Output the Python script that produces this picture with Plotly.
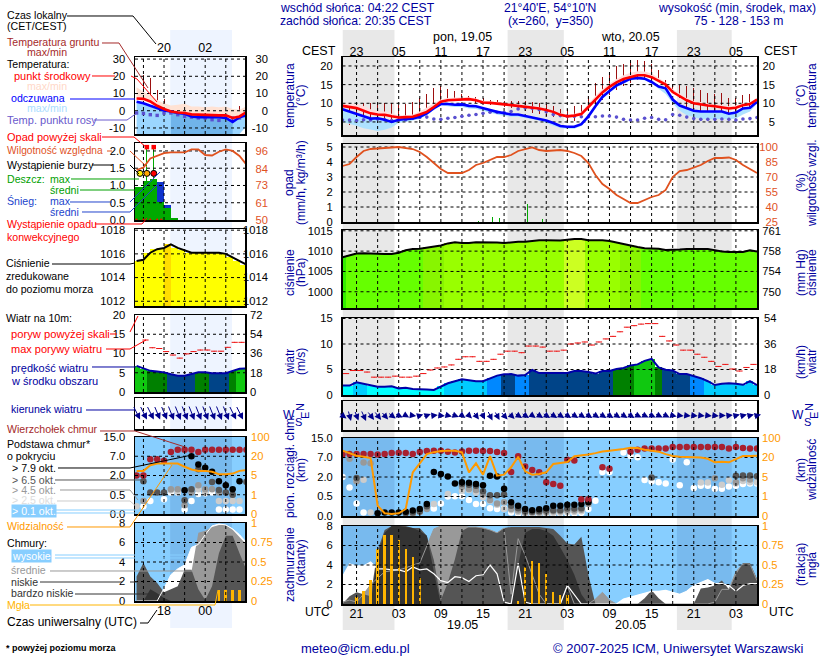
import numpy as np
import plotly.graph_objects as go

# ---------- time ----------
hours = list(range(19, 79))
left_hours = list(range(14, 31))

# ---------- main panel data (hourly, UTC, hour 24 = 19.05 00:00) ----------
temp_mid = [9.3,9,8.7,8,7.3,7,6.9,6.5,6.2,6.3,6.4,7,7.7,9,10.4,10.8,10.9,11,11.1,10.8,10.2,10.1,10,9.7,9.5,9.3,9,8.9,8.6,8.2,7.7,6.9,6.5,6.7,7.1,9,11,12.9,14.4,15.6,16.5,17,17.5,17.5,17,16,15,13,11.8,10.8,10,9.6,9.4,9.2,9,8.6,8.8,9.5,9.8,11]
temp_mid_max = [10,9.8,9.8,9.3,8.4,8,7.8,7.2,6.8,6.8,7,7.8,8.8,10,11,11.4,11.6,11.6,11.6,11.3,10.7,10.6,10.5,10.2,10,9.8,9.5,9.3,9,8.6,8,7.3,6.9,7.2,7.7,9.8,12,13.8,15.3,16.5,17.5,18.2,18.6,18.5,18,16.8,15.6,13.8,12.5,11.4,10.6,10.2,10,9.8,9.6,9.2,9.4,10,10.3,11.4]
temp_app = [8.4,7.7,7,6.5,5.9,6,5.6,5,5.6,5.8,5.9,6.4,7.3,8.7,9.8,9.8,9.6,9.7,9.3,9.2,8.6,8.2,7.7,7.3,7,7,6.6,6.2,5.9,5.4,4.7,3.9,3.7,3.7,4.4,6.5,9.2,11.7,13.3,14.8,15.7,16.6,16.8,16.6,15.7,14.5,14,11,9.4,8.6,8,7.8,7.8,7.8,7.8,7.2,7.5,8.6,8.8,10.4]
temp_app_min = [5,4.6,4,3.3,3,2.6,2.9,3.5,4.8,5,5.3,5.8,6.8,8.2,9.4,9.2,9,9,8.6,8.5,8,7.5,7,6.6,6.4,6.4,6,5.7,5.4,4.8,4,3.4,3.2,3.2,3.9,6,8.7,11.2,12.8,14.3,15.3,16.2,16.4,16.2,15.3,13.9,12.5,10,8,6.8,6.2,5.8,5.7,5.7,5.8,5.7,5.9,7,7.8,9.9]
dew_point = [5.5,5.5,5.4,5.6,5.5,5.8,5.6,5.4,5.5,5.6,6,6.2,6.3,5.8,5.7,6,6.2,6.5,6.8,7,7.3,7.6,7.6,7.5,7.8,8.5,8.8,8.7,8.3,7.7,7,6.7,6.5,6.5,6.4,6.4,6.4,6.6,6.6,6.3,5.7,5.5,5.5,6,6.2,5.7,5.6,7,6.8,6.3,5.9,5.7,5.7,5.7,5.8,5.7,5.5,5.8,5.9,6.2]
soil_hours = list(range(20, 79))
soil_max = [10,9.7,10,10,10,10,10,9.6,9.9,10.4,11.3,12.6,14,14.5,13.7,13.3,12.5,12,11.7,11.3,11,11,10.5,10.5,10.6,10.5,10.3,10,9.8,9.3,8.6,8.4,9.3,9.6,12,15.5,17,18.5,20,20.5,21,21.5,21.3,20.5,18.8,16.3,15,15,14.5,14.2,13.5,12.7,12.5,12.7,11.5,11.5,12.3,12.6,11.5]
soil_min = [4.2,5,3.8,3,4.6,4.8,5.3,5.3,6.4,6.5,6.5,7.8,8.7,9.8,10.6,10.6,10.8,10.8,10.2,9.7,9.5,9.5,9,8.7,8.3,8,7.5,7,6.5,6.3,6.2,5.3,5.3,7,8,9.5,11,12.2,13.5,14.7,15.5,16.3,16.8,16.5,15.8,14.4,13.2,11.5,9,8,7,6.5,6,6,5.8,5.5,7,8.5,9]
humidity = [81,83,90,96,98,98.3,98.7,99.5,100,99,98,95,90,84,78,74,74,74,77,82,84,87,90,90,92,96,98,99.5,97,96,96.5,97,96,94,91,84,72,63,58,52,48,44,44,47,50,52,57,70,76,77,79.5,82,86,89,89,89.5,87,82,78,74]
rain_hours = [38.4,40.4,41.4,45.4,46.4,47.4]
rain_mean = [0.1,0.35,0.3,1.18,1.18,0.2]
pressure = [1008.5,1009,1009.4,1009.5,1009.4,1009.3,1009.3,1009.3,1009.6,1010.2,1010.5,1010.6,1010.9,1011.1,1011.4,1011.9,1012.2,1012,1012,1012.2,1012.2,1012.2,1012.1,1012,1012.2,1012.3,1012.3,1012.5,1012.7,1012.7,1012.6,1012.6,1012.8,1013,1013,1012.7,1012.7,1012.7,1012.5,1012.1,1011.7,1011.4,1011,1010.7,1010.7,1010.6,1010.3,1010.3,1010.4,1010.5,1010.5,1010.5,1010.5,1010.2,1009.9,1009.8,1009.8,1009.8,1010.2,1009.9]
wind = [1.85,1.85,2.5,2.2,1.85,1.6,1.6,1.7,1.3,1.4,1.2,1.2,1.1,1,1.7,2.3,2.7,3.1,2.9,2.7,2.7,3.3,3.8,4.05,4.1,3.8,3.9,4.9,4.3,4.3,4.3,4.3,4.3,4.7,4.7,4.5,4.2,4.7,4.7,5.1,5.3,5.8,6,6.7,7.1,5.4,4.95,4.8,4.1,4.1,3.7,3.3,2.7,1.95,2.2,2.3,2.2,2,2.7,1.95]
gust_hours = [h + 0.5 for h in range(19, 78)]
gust = [4.2,4.8,4.8,4.5,3.5,3.5,3.5,3.7,3.5,3.5,3.7,4.2,4.9,5.3,5.5,5.9,7,7.5,7.5,6.6,6.6,7,8,8.6,8.6,8.3,9.6,9.6,9.4,8.6,8.6,8.8,10,10.2,10.4,9.8,10.4,11,11.5,12.4,13.3,13.6,13.9,14,14,11.5,10.6,9.8,8.8,8.8,8,7.4,6.6,5.6,6,5.1,4.7,5.4,6]
arrow_east = [8,3,4,5,7,7,7,8,8,7,7,7,8,8,8,8,8,7,6,6,4,5,5,7,7,8,8,7,8,8,8,8,8,8,8,8,8,8,8,8,8,8,8,8,8,8,8,8,8,8,8,8,8,8,8,8,8,8,8,8]
arrow_south = [6,11,10,11,9,9,8,6,4,4,1,-2,-3,-1,1,2,3,5,6,8,8,10,9,8,7,5,5,5,5,5,5,5,5,5,5,5,5,5,5,5,5,5,4,4,4,4,4,2,1,1,1,1,1,1,0,-1,-2,-2,-2,-2]

# cloud base and top heights (km)
cloud_ticks_km = [0, 0.5, 2, 7, 15]
vis_ticks_km = [0, 1, 5, 20, 100]
top_h = [19,20,21,22,23,24,25,26,27,28,29,30,31,32,33,34,35,36,37,38,39,40,41,42,43,44,45,46,47,48,49,50,51,52,53,54,56,57,60,61,62,63,64,65,66,67,68,69,70,71,72,73,74,75,76,77,78]
top_km = [8.2,8.4,8.4,8.4,8.4,8.2,8.4,8.8,9,8.8,8.4,9.3,9.7,9.8,9.8,9.4,9.1,9.5,9.8,9.8,9.7,9.7,9.3,8.8,3.3,7.5,4.7,3.8,3.2,1.6,1.46,1.33,6.4,6.2,0.43,0.43,4.5,4.1,9.4,10.2,10.7,10.7,10.7,10.7,11.3,11.3,11.3,11.3,11.3,11.3,11.3,11.3,10.7,11.3,10.9,10.7,10.7]
b79_h = [24,25,26,27,28,29,30,31,32,33,34,35,36,37,38,39,40,41,42,43,44,45,46,47,48,49,50,51,52,53,54]
b79_km = [.07,.09,.09,.09,.11,.14,.18,.31,3.3,2.8,2.1,1.5,1.6,1.55,1.46,1.36,2.3,2.1,1.1,.35,.26,.18,.15,.17,.2,.26,.26,.29,.29,.31,.35]
b65_h = [21,28,29,30,31,36,37,38,39,40,41,42,43,44,45,46,47,48,49,50,51,52,53,54,63,75,76,77,78]
b65_km = [1.92,.07,.09,.12,.25,1.46,1.4,1.33,.9,.6,.6,.66,.26,.2,.12,.11,.12,.14,.15,.15,.19,.19,.2,.39,1.97,2.3,2.4,2.4,2.2]
b45_h = [20,21,22,23,29,30,31,36,37,38,39,40,41,42,43,44,45,46,47,48,49,50,51,52,53,54,72,75,76,77]
b45_km = [6.7,1.67,5.7,5.5,.05,.1,.18,1.25,1.08,1,.7,.41,.32,.35,.18,.14,.09,.09,.09,.1,.12,.12,.14,.14,.16,.31,1.9,1.6,1.9,1.8]
b25_h = [21,22,23,32,34,36,37,38,39,40,41,42,43,44,45,46,47,48,49,50,51,52,53,70,71,73,74,75,76,77,78]
b25_km = [1.7,1.78,.09,.31,.7,.95,1,.8,.48,.39,.29,.18,.15,.1,.06,.06,.06,.07,.08,.08,.1,.1,.12,1.58,1.58,1.4,1.75,1.5,1.7,1.6,1.6]
b01_h = [19,20,21,22,32,33,34,35,36,37,38,39,40,41,42,43,44,45,46,47,48,49,50,51,52,53,54,55,56,57,59,60,61,62,63,64,65,66,67,68,69,70,71,72,73,74,75,76,77,78]
b01_km = [2,1.2,.32,.09,.19,.32,.5,.52,.52,.41,.31,.31,.2,.18,.19,.09,.06,.04,.04,.04,.05,.06,.06,.07,.07,.08,.18,.39,3.3,3.3,9.1,7.6,7.1,1.77,1.65,1.6,1.5,6.5,1.36,5.8,1.15,1.33,1.33,1.1,1.1,1.27,1.33,1.46,1.5,1.5]
visibility = [48,38,27,23,19.6,.53,.14,.1,.14,.36,8.6,15.5,34,42,47,48,48,41,8.6,15.5,6.8,26,6,6.8,12.5,23,9.4,6.8,7.3,8.6,15,15.8,16.5,25,27,32,38,45,48,50,55,60,59,52,48,44,34,26,23,23,23,20,19,16.3,16.8,16.3,18.8,26,26,27]

# cloud cover (octas)
cloud_high = [2.8,4.1,3.9,3.9,4.3,3.6,3.6,3.5,3.5,3.3,3.8,3.5,3.6,3.1,2.4,2.2,2.8,2.7,2.3,2.9,3,4,3.1,.2,0,4.2,.2,0,0,0,0,0,1.9,1,0,0,0,0,0,0,.5,.7,.9,1.1,1.3,1.3,1.4,1.2,1,1.3,1.9,2.2,2.5,2.1,2.1,1.9,1.3,1.9,2.1,2.1]
cloud_mid = [.2,.4,.2,1,2,2.7,3.3,3.4,3.5,3.7,4,4.2,6,7.7,8,8,8,8,7.9,7.9,7.8,7.6,7.3,7.8,1,6.7,5,3,1,0,0,0,1.9,0,0,0,.5,1.2,.4,0,0,0,0,0,0,0,0,0,0,0,0,0,0,.2,1.5,1.5,3.3,4.1,4.1,2.4]
cloud_low = [0,.8,1.2,1,.8,5.5,7.6,8,8,8,7.8,7.8,7,4.5,.4,2.2,4.6,7.5,7.9,7.9,7.8,7.6,7.3,7.8,7.9,7.9,7.9,7.9,7.9,7.8,7.7,7,6.2,6.1,6.9,3,0,0,0,0,0,0,0,.6,1.4,.6,0,0,0,0,0,1.6,1.7,1.9,2.4,1.5,3,4.2,4.2,2.6]
cloud_vlow = [0,0,0,0,0,5,7.3,8,8,7.9,7.8,7.5,7,3.3,0,0,0,0,0,0,0,0,0,0,0,4,7.3,7.7,7.7,7.5,7,5.8,4.5,3,1,0,0,0,0,0,0,0,0,0,0,0,0,0,0,0,0,0,0,0,0,0,0,0,0,0]
fog_hours = [21,22,23,24,25,26,27,28,29,30,44,45,46,47,48,49,50,51]
fog_fraction = [.09,.17,.31,.71,.88,.89,.82,.7,.6,.33,.04,.47,.55,.52,.39,.15,.12,.12]

# ---------- left (explanatory) panel data ----------
l_mid = [7.1,6.9,5.4,2.9,1,-.4,-1,-1.3,-2.1,-2.3,-2.7,-2.7,-2.7,-2.7,-4.2,-3.3,-.8]
l_mid_max = [13.6,11,9.2,6.3,4.4,3,3.5,4,2.5,2.5,2,2.5,2,2.5,1,.6,2.5]
l_app = [5.2,4.4,2.9,1.5,.2,-.4,-1.3,-1.7,-3.3,-3.7,-3.7,-3.3,-3.7,-4.2,-6.5,-3.7,-2.7]
l_app_min = [-13.5,-13.5,-13.5,-13.5,-13.5,-13.5,-13.5,-13.5,-13.5,-13.5,-13.5,-13.5,-13.5,-13.5,-13.5,-13.5,-9]
l_dew = [-1.3,-1.6,-2.3,-2.7,-1.3,-1.3,-2.3,-3.3,-3.7,-4.2,-4.2,-5.2,-5.6,-3.3,-4.2,-4.2,-3]
l_soil_hours = list(range(15, 30))
l_soil_max = [20.8,18.8,12,7,2.5,2.5,2.9,2.1,2.1,1.5,2.1,1.5,1.5,-.4,2.9]
l_soil_min = [8.2,6.3,4.4,3,-2.3,-5.2,-7.1,-10.9,-12.8,-8.2,-10,-8.2,-13,-11.8,-5.6]
l_rain_hours = [13.5,14.5,15.5,16.5,17.5,18.5,19.5]
l_rain_mean = [.97,.97,1.13,1.18,.53,.34,.07]
l_snow_mean = [0,0,0,0,1.09,.43,0]
l_rain_max_hours = [14.5,15.5,16.5]
l_rain_max = [1.6,2.11,2.11]
l_thunder = [1.35,1.35,1.35]
l_humidity = [83.3,85,91,93,94.5,95,95,95,97,97,93.3,93,95.5,97,96,92.7,87]
l_pressure = [1015.4,1015.5,1016.1,1016.4,1016.5,1016.8,1016.5,1016.3,1016.1,1016.1,1016.1,1016.1,1016.1,1016,1015.7,1015.4,1015.1]
l_wind = [6.8,6.1,5.5,5.3,5.1,4.6,4.2,4.2,4.6,5.1,5.1,4.9,4.9,4.9,5.5,6.05,6.1]
l_gust_hours = [15.3,16.3,17.3,18.3,19.3,20.3,21.3,22.3,23.3,24.3,25.3,26.3,27.3,28.3,29.3]
l_gust = [13.5,11.5,11.3,10.5,9.6,8.8,9.9,10.5,10.9,10.9,10.6,10.6,11.6,12.9,12.9]
l_arrow_east = [7,7,7,6,6,6,6,6,6,6,6,6,6,6,7,7,7]
l_arrow_south = [14,14,14,14,14,15,15,15,15,15,15,15,15,15,14,14,14]
l_top_h = left_hours
l_top_km = [2,2,6.2,6.2,5.8,8.8,9.7,9.7,9.7,8.8,9.7,9.7,9.7,9.7,9.7,9.7,9.7]
l_b79_h = [21,22,23,24,25,26,27,28,29]
l_b79_km = [.86,7,4.85,4,3,1.56,1.25,.92,1.56]
l_b65_h = [15,16,17,18,21,22,23,25,26,27,28,30]
l_b65_km = [1.56,.68,.68,.68,.36,.92,3.6,1.5,.87,.68,.5,1.5]
l_b45_h = [15,19,20,21,22,23,24,25,26,28]
l_b45_km = [.34,.92,.92,.23,.67,1.25,.92,.92,.67,.5]
l_b25_h = [14,19,20,23,24,26,27,28,29]
l_b25_km = [.2,.85,.72,.92,.7,.34,.34,.34,.34]
l_b01_h = [15,16,18,19,20,21,22,23,24,25,26,27,28,29]
l_b01_km = [.2,.34,.38,.68,.68,.12,.34,.55,.62,.68,.12,.12,.12,.12]
l_visibility = [8.6,8.6,13,14.3,14.3,14.3,14.3,11.8,9.7,8.6,8.6,7.9,6,6,6.5,8.6,9.2]
l_cloud_high = [0,0,0,0,1.3,2.7,3.3,3.7,5.5,5.8,6.8,7.7,7.9,7.8,7.4,6.8,6]
l_cloud_mid = [0,0,0,0,0,0,1,2.5,3,7,7.2,7.6,7.8,7.8,7.3,6.5,5.8]
l_cloud_low = [2.5,3.9,2.5,1.85,.9,1.2,1.5,3.2,3.2,1.2,.1,1.5,4.9,6.7,6.7,4.9,3.2]
l_cloud_vlow = [0,0,1.2,.8,.3,0,0,0,0,0,0,0,0,0,0,0,0]
l_fog_hours = [26,27,28,29]
l_fog_fraction = [.145,.145,.145,.145]

# ---------- tick labels ----------
cest_vals = [21,27,33,39,45,51,57,63,69,75]
cest_text = ["23","05","11","17","23","05","11","17","23","05"]
utc_text = ["21","03","09","15","21","03","09","15","21","03"]
l_cest_vals = [18,24,30]
l_cest_text = ["20","02","08"]
l_utc_text = ["18","00","06"]
main_grid = list(range(21, 78, 3))
left_grid = [15,18,21,24,27]
night_hours = [(19,26.4),(42.5,50.5),(66.6,74.4)]
left_day = (18.9,27.9)

# ---------- style ----------
FONT = "Liberation Sans, Arial, sans-serif"
NAVY = "#0000a0"
SKY = "#87ceff"
SKY_D = "#78baee"
HUM = "#e0521f"
ORG = "#ff9900"
FOG = "#ffb400"
BRN = "#a52a2a"
MW, MH = 820, 660
MAIN = (342.5, 757, [19, 78])
LEFT = (135, 245, [13.77, 29.8])
TICK = 11.2

fig = go.Figure()
axes = {}
shapes = []
ann = []

def panel(i, col, y0, y1, yr, tv, tt, rv=None, rt=None, rr=None, rcol="black", rpos=None, rleft=False,
          xvals=None, xtext=None, side="bottom", xstand=0, lstand=6):
    x0, x1, xr = col
    axes[f"xaxis{i}"] = dict(domain=[x0/MW, x1/MW], range=xr, anchor=f"y{2*i-1}", side=side,
        showgrid=False, zeroline=False, showline=True, mirror=True, linecolor="black", linewidth=1.5,
        ticks="", tickvals=xvals or [], ticktext=xtext or [], showticklabels=bool(xvals),
        tickfont=dict(family=FONT, size=12.5, color="black"), ticklabelstandoff=xstand)
    axes[f"yaxis{2*i-1}"] = dict(domain=[1-y1/MH, 1-y0/MH], range=yr, anchor=f"x{i}",
        showgrid=False, zeroline=False, showline=True, mirror=True, linecolor="black", linewidth=1.5,
        ticks="", tickvals=tv, ticktext=tt, tickfont=dict(family=FONT, size=TICK, color="black"),
        ticklabelstandoff=lstand, showticklabels=bool(tv))
    if rv is not None:
        axes[f"yaxis{2*i}"] = dict(overlaying=f"y{2*i-1}", anchor="free", side="right" if rleft else "left",
            position=rpos/MW, range=rr or yr, showgrid=False, zeroline=False, showline=False, ticks="",
            tickvals=rv, ticktext=rt, tickfont=dict(family=FONT, size=TICK, color=rcol))
        fig.add_trace(go.Scatter(x=[xr[0]], y=[(rr or yr)[0]], xaxis=f"x{i}", yaxis=f"y{2*i}", mode="lines",
                                 line=dict(width=0), hoverinfo="skip", showlegend=False))

def line(i, x, y, color, width=2, right=False, dash=None):
    fig.add_trace(go.Scatter(x=x, y=y, xaxis=f"x{i}", yaxis=f"y{2*i-(0 if right else 1)}", mode="lines",
        line=dict(color=color, width=width, dash=dash), hoverinfo="skip", showlegend=False, connectgaps=False))

def band(i, x, lo, hi, color):
    fig.add_trace(go.Scatter(x=list(x)+list(x)[::-1], y=list(hi)+list(lo)[::-1], xaxis=f"x{i}", yaxis=f"y{2*i-1}",
        mode="lines", line=dict(width=0), fill="toself", fillcolor=color, hoverinfo="skip", showlegend=False))

def area(i, x, y, color):
    fig.add_trace(go.Scatter(x=x, y=y, xaxis=f"x{i}", yaxis=f"y{2*i-1}", mode="lines", line=dict(width=0),
        fill="tozeroy", fillcolor=color, hoverinfo="skip", showlegend=False))

def dots(i, x, y, color, size=6.5, symbol="circle", right=False, lc=None):
    fig.add_trace(go.Scatter(x=x, y=y, xaxis=f"x{i}", yaxis=f"y{2*i-(0 if right else 1)}", mode="markers",
        marker=dict(color=color, size=size, symbol=symbol, line=dict(color=lc or color, width=1 if lc else 0)),
        hoverinfo="skip", showlegend=False))

def bars(i, x, y, color, width, base=None, right=False):
    fig.add_trace(go.Bar(x=x, y=y, base=base, width=width, xaxis=f"x{i}", yaxis=f"y{2*i-(0 if right else 1)}",
        marker=dict(color=color, line=dict(width=0)), hoverinfo="skip", showlegend=False))

def grid(i, xs, ys, xr, yr, right=False):
    gx, gy = [], []
    for v in xs:
        gx += [v, v, None]; gy += [yr[0], yr[1], None]
    for v in ys:
        gx += [xr[0], xr[1], None]; gy += [v, v, None]
    line(i, gx, gy, "black", 1, right=right, dash="3px,3px")

def steps(levels, colors, vmin, vmax):
    out = []
    edges = [vmin] + levels + [vmax]
    for k, c in enumerate(colors):
        out += [[(edges[k]-vmin)/(vmax-vmin), c], [(edges[k+1]-vmin)/(vmax-vmin), c]]
    return out

WIND_SCALE = steps([1.9,3.2,4,5,6], ["#00ffff","#00ccff","#0088ff","#004488","#008000","#10c810"], 0, 9)
PRESS_SCALE = steps([1008.9,1010.75,1011.9,1012.75], ["#33ee00","#66ff00","#88f500","#99ff00","#ccff22"], 1007, 1014)
LPRESS_SCALE = steps([1016.6], ["#ffff00","#ffdd00"], 1010, 1018)

def km_level(v): return list(np.interp(v, cloud_ticks_km, [0,1,2,3,4]))
def vis_level(v): return list(np.interp(v, vis_ticks_km, [0,1,2,3,4]))
LV = [0,1,2,3,4]
KM_T = ["0.0","0.5","2.0","7.0","15.0"]
VIS_T = ["0","1","5","20","100"]

# ---------- background rectangles ----------
for a, b in night_hours:
    shapes.append(dict(type="rect", xref="x", yref="paper", x0=a, x1=b, y0=1-630/MH, y1=1-30/MH,
                       fillcolor="#e8e8e8", line=dict(width=0), layer="below"))
shapes.append(dict(type="rect", xref="x8", yref="paper", x0=left_day[0], x1=left_day[1], y0=1-628/MH, y1=1-30/MH,
                   fillcolor="#eef4ff", line=dict(width=0), layer="below"))
def sky(i, rng, ylim, spans):
    shapes.append(dict(type="rect", xref=f"x{i}", yref=f"y{2*i-1}", x0=rng[0], x1=rng[1], y0=ylim[0], y1=ylim[1],
                       fillcolor=SKY, line=dict(width=0), layer="below"))
    for a, b in spans:
        shapes.append(dict(type="rect", xref=f"x{i}", yref=f"y{2*i-1}", x0=a, x1=b, y0=ylim[0], y1=ylim[1],
                           fillcolor=SKY_D, line=dict(width=0), layer="below"))
sky(6, MAIN[2], [0,4], night_hours)
sky(7, MAIN[2], [0,8], night_hours)
sky(13, LEFT[2], [0,4], [left_day])
sky(14, LEFT[2], [0,8], [left_day])

# ---------- panel 1: temperature ----------
T_R = [1.5, 22.4]
panel(1, MAIN, 57, 135, T_R, [5,10,15,20], ["5","10","15","20"], [5,10,15,20], ["5","10","15","20"],
      rpos=775, xvals=cest_vals, xtext=cest_text, side="top", rcol="black", xstand=-5)
band(1, hours, temp_mid, temp_mid_max, "#ffdcdc")
band(1, hours, temp_app_min, temp_app, "#aee2ff")
bars(1, soil_hours, [a-b for a, b in zip(soil_max, soil_min)], "#9c1010", 0.14, base=soil_min)
grid(1, main_grid, [5,10,15,20], MAIN[2], T_R)
dots(1, hours, dew_point, "#5a50d0", 3.6)
line(1, hours, temp_app, "#0000ff", 2.6)
line(1, hours, temp_mid, "#ff0000", 2.6)

# ---------- panel 2: precipitation + humidity ----------
P_R = [0, 5.2]
H_R = [25, 103]
panel(2, MAIN, 144, 222, P_R, [0,1,2,3,4,5], ["0","1","2","3","4","5"],
      [25,40,55,70,85,100], ["25","40","55","70","85","100"], rr=H_R, rcol=HUM, rpos=778)
bars(2, rain_hours, rain_mean, "#00aa00", 0.14)
grid(2, main_grid, [1,2,3,4,5], MAIN[2], P_R)
line(2, hours, humidity, HUM, 1.8, right=True)

# ---------- panel 3: pressure ----------
PR_R = [996, 1015.2]
panel(3, MAIN, 230, 308, PR_R, [1000,1005,1010,1015], ["1000","1005","1010","1015"],
      [1000,1005,1010,1015], ["750","754","758","761"], rpos=781)
fig.add_trace(go.Bar(x=hours, y=[p-PR_R[0] for p in pressure], base=PR_R[0], width=1, xaxis="x3", yaxis="y5",
    marker=dict(color=pressure, colorscale=PRESS_SCALE, cmin=1007, cmax=1014, line=dict(width=0)),
    hoverinfo="skip", showlegend=False))
grid(3, main_grid, [1000,1005,1010,1015], MAIN[2], PR_R)
line(3, hours, pressure, "black", 2)

# ---------- panel 4: wind ----------
W_R = [0, 15.1]
panel(4, MAIN, 318, 395, W_R, [0,5,10,15], ["0","5","10","15"], [0,5,10,15], ["0","18","36","54"], rpos=763, rleft=True)
fig.add_trace(go.Bar(x=hours, y=wind, width=1, xaxis="x4", yaxis="y7",
    marker=dict(color=wind, colorscale=WIND_SCALE, cmin=0, cmax=9, line=dict(width=0)), hoverinfo="skip", showlegend=False))
grid(4, main_grid, [5,10,15], MAIN[2], W_R)
fig.add_trace(go.Scatter(x=gust_hours, y=gust, xaxis="x4", yaxis="y7", mode="markers", marker=dict(size=1, color="#ee1111"),
    error_x=dict(type="constant", value=0.45, color="#ee1111", thickness=1, width=0), hoverinfo="skip", showlegend=False))
line(4, hours, wind, "#0000a8", 2)

# ---------- panel 5: wind direction ----------
panel(5, MAIN, 401, 430, [-1,1], [], [])
grid(5, main_grid, [], MAIN[2], [-1,1])
for h, u, v in zip(hours, arrow_east, arrow_south):
    ann.append(dict(xref="x5", yref="y9", x=h, y=0, ax=-u, ay=-v, xshift=u/2, yshift=-v/2, text="", showarrow=True,
                    arrowhead=2, arrowsize=1.3, arrowwidth=1, arrowcolor="#00008b", axref="pixel", ayref="pixel"))

# ---------- panel 6: cloud bases ----------
panel(6, MAIN, 438, 516, [0,4], LV, KM_T, LV, VIS_T, rcol=ORG, rpos=761, rleft=True)
dots(6, b01_h, km_level(b01_km), "#ffffff")
dots(6, b25_h, km_level(b25_km), "#cccccc")
dots(6, b45_h, km_level(b45_km), "#999999")
dots(6, b65_h, km_level(b65_km), "#555555")
dots(6, b79_h, km_level(b79_km), "#000000")
dots(6, top_h, km_level(top_km), "#a82030")
grid(6, main_grid, [1,2,3], MAIN[2], [0,4])
line(6, hours, vis_level(visibility), ORG, 2, right=True)

# ---------- panel 7: cloud cover + fog ----------
panel(7, MAIN, 526, 604, [0,8], [0,2,4,6,8], ["0","2","4","6","8"],
      [0,.25,.5,.75,1], ["0","0.25","0.5","0.75","1"], rr=[0,1], rcol=ORG, rpos=761, rleft=True,
      xvals=cest_vals, xtext=utc_text, xstand=-3)
area(7, hours, cloud_high, "#ffffff")
area(7, hours, cloud_mid, "#999999")
area(7, hours, cloud_low, "#555555")
area(7, hours, cloud_vlow, "#333333")
line(7, hours, cloud_mid, "#999999", 1)
line(7, hours, cloud_high, "#ffffff", 1.2)
bars(7, fog_hours, fog_fraction, FOG, 0.34, right=True)
grid(7, main_grid, [.25,.5,.75], MAIN[2], [0,1], right=True)

# ---------- left 1: temperature ----------
LT_R = [-13.5, 31.2]
lt = [-10,0,10,20,30]
panel(8, LEFT, 57, 134, LT_R, lt, [str(v) for v in lt], lt, [str(v) for v in lt], rpos=268,
      xvals=l_cest_vals, xtext=l_cest_text, side="top", xstand=-1)
band(8, left_hours, l_mid, l_mid_max, "#ffe2d4")
band(8, left_hours, l_app_min, l_app, "#9bd6ff")
band(8, left_hours[5:15], l_app_min[5:15], l_app[5:15], "#70b4ea")
bars(8, l_soil_hours, [a-b for a, b in zip(l_soil_max, l_soil_min)], "#9c1010", 0.14, base=l_soil_min)
grid(8, left_grid, lt, LEFT[2], LT_R)
dots(8, left_hours, l_dew, "#5a50d0", 3.4, "square")
line(8, left_hours, l_app, "#0000ff", 2.6)
line(8, left_hours, l_mid, "#ff0000", 2.6)

# ---------- left 2: precipitation ----------
LP_R = [0, 2.23]
lp = [0,.5,1,1.5,2]
panel(9, LEFT, 143, 220, LP_R, lp, ["0.0","0.5","1.0","1.5","2.0"], [50,61,73,84,96], ["50","61","73","84","96"],
      rr=[50,101.3], rcol=HUM, rpos=268)
bars(9, l_rain_hours, l_snow_mean, "#1133cc", 1)
bars(9, [h for h, s in zip(l_rain_hours, l_snow_mean) if s], [.53,.34], "#00aa00", 1)
bars(9, [h for h, s in zip(l_rain_hours, l_snow_mean) if not s], [r for r, s in zip(l_rain_mean, l_snow_mean) if not s], "#00aa00", 1)
bars(9, l_rain_max_hours, l_rain_max, "#00aa00", 0.14)
grid(9, left_grid, [.5,1,1.5,2], LEFT[2], LP_R)
dots(9, l_rain_max_hours, l_thunder, ["#ffee00","#ffa500","#ff0000"], 6, lc="#000000")
dots(9, l_rain_max_hours[1:], l_rain_max[1:], "#ff0000", 4.5, "square")
dots(9, [14,15,16,17,17.6], [.015]*5, "#ff0000", 2)
line(9, left_hours, l_humidity, HUM, 1.8, right=True)

# ---------- left 3: pressure ----------
LPR_R = [1011.6, 1018.1]
lpr = [1012,1014,1016,1018]
panel(10, LEFT, 229, 306, LPR_R, lpr, [str(v) for v in lpr], lpr, [str(v) for v in lpr], rpos=268)
fig.add_trace(go.Bar(x=[h-.5 for h in left_hours], y=[p-LPR_R[0] for p in l_pressure], base=LPR_R[0], width=1, xaxis="x10", yaxis="y19",
    marker=dict(color=l_pressure, colorscale=LPRESS_SCALE, cmin=1010, cmax=1018, line=dict(width=0)), hoverinfo="skip", showlegend=False))
fig.add_trace(go.Bar(x=[29.7], y=[l_pressure[-1]-LPR_R[0]], base=LPR_R[0], width=.6, xaxis="x10", yaxis="y19",
    marker=dict(color="#ffff00", line=dict(width=0)), hoverinfo="skip", showlegend=False))
grid(10, left_grid, lpr, LEFT[2], LPR_R)
line(10, left_hours, l_pressure, "black", 2)

# ---------- left 4: wind ----------
panel(11, LEFT, 315, 392, [0,20], [0,5,10,15,20], ["0","5","10","15","20"], [0,5,10,15,20], ["0","18","36","54","72"], rpos=249, rleft=True)
fig.add_trace(go.Bar(x=left_hours, y=l_wind, width=1, xaxis="x11", yaxis="y21",
    marker=dict(color=l_wind, colorscale=WIND_SCALE, cmin=0, cmax=9, line=dict(width=0)), hoverinfo="skip", showlegend=False))
grid(11, left_grid, [5,10,15], LEFT[2], [0,20])
fig.add_trace(go.Scatter(x=l_gust_hours, y=l_gust, xaxis="x11", yaxis="y21", mode="markers", marker=dict(size=1, color="#ee1111"),
    error_x=dict(type="constant", value=0.45, color="#ee1111", thickness=1, width=0), hoverinfo="skip", showlegend=False))
line(11, left_hours, l_wind, "#0000a8", 2)

# ---------- left 5: wind direction ----------
panel(12, LEFT, 398, 429, [-1,1], [], [])
grid(12, left_grid, [], LEFT[2], [-1,1])
for h, u, v in zip(left_hours, l_arrow_east, l_arrow_south):
    ann.append(dict(xref="x12", yref="y23", x=h, y=0, ax=-u, ay=-v, xshift=u/2, yshift=-v/2+1, text="", showarrow=True,
                    arrowhead=2, arrowsize=1.3, arrowwidth=1, arrowcolor="#00008b", axref="pixel", ayref="pixel"))

# ---------- left 6: cloud bases ----------
panel(13, LEFT, 437, 514, [0,4], LV, KM_T, LV, VIS_T, rcol=ORG, rpos=250, rleft=True)
dots(13, l_b01_h, km_level(l_b01_km), "#ffffff")
dots(13, l_b25_h, km_level(l_b25_km), "#cccccc")
dots(13, l_b45_h, km_level(l_b45_km), "#999999")
dots(13, l_b65_h, km_level(l_b65_km), "#555555")
dots(13, l_b79_h, km_level(l_b79_km), "#000000")
dots(13, l_top_h, km_level(l_top_km), "#a82030")
grid(13, left_grid, [1,2,3], LEFT[2], [0,4])
line(13, left_hours, vis_level(l_visibility), ORG, 2, right=True)

# ---------- left 7: clouds ----------
panel(14, LEFT, 523, 601, [0,8], [0,2,4,6,8], ["0","2","4","6","8"], [0,.25,.5,.75,1], ["0","0.25","0.5","0.75","1"],
      rr=[0,1], rcol=ORG, rpos=250, rleft=True, xvals=l_cest_vals, xtext=l_utc_text, xstand=-3)
area(14, left_hours, l_cloud_high, "#ffffff")
area(14, left_hours, l_cloud_mid, "#999999")
area(14, left_hours, l_cloud_low, "#555555")
area(14, left_hours, l_cloud_vlow, "#333333")
line(14, left_hours, l_cloud_high, "#ffffff", 1)
bars(14, l_fog_hours, l_fog_fraction, FOG, 0.4, right=True)
grid(14, left_grid, [.25,.5,.75], LEFT[2], [0,1], right=True)

# ---------- text ----------
def txt(x, y, s, color="black", size=10.6, anchor="left", angle=0, bg=None, bold=False):
    a = dict(xref="paper", yref="paper", x=x/MW, y=1-y/MH, text=f"<b>{s}</b>" if bold else s, showarrow=False,
             xanchor=anchor, yanchor="middle", textangle=angle, font=dict(family=FONT, size=size, color=color),
             borderpad=0, align="center")
    if bg: a["bgcolor"] = bg
    ann.append(a)

def conn(color, pts, width=1):
    d = "M " + " L ".join(f"{x/MW:.5f} {1-y/MH:.5f}" for x, y in pts)
    shapes.append(dict(type="path", xref="paper", yref="paper", path=d, line=dict(color=color, width=width), layer="above"))

# header
HS = 12.2
txt(279, 8, "wschód słońca: 04:22 CEST", NAVY, HS)
txt(279, 21, "zachód słońca: 20:35 CEST", NAVY, HS)
txt(550, 8, "21°40'E, 54°10'N", NAVY, HS, anchor="center")
txt(550, 21, "(x=260,  y=350)", NAVY, HS, anchor="center")
txt(817, 8, "wysokość (min, środek, max)", NAVY, HS, anchor="right")
txt(738, 21, "75 - 128 - 153 m", NAVY, HS, anchor="center")
txt(462.5, 37, "pon, 19.05", size=12.5, anchor="center")
txt(630.5, 37, "wto, 20.05", size=12.5, anchor="center")
txt(319, 51, "CEST", size=12.5, anchor="center")
txt(781, 51, "CEST", size=12.5, anchor="center")
txt(317, 612, "UTC", size=12, anchor="center")
txt(781, 612, "UTC", size=12, anchor="center")
txt(462.5, 625, "19.05", size=12.5, anchor="center")
txt(630.5, 625, "20.05", size=12.5, anchor="center")
txt(300, 648, "meteo@icm.edu.pl", NAVY, size=13)
txt(805, 648, "© 2007-2025 ICM, Uniwersytet Warszawski", NAVY, size=13, anchor="right")

# rotated axis titles
for x, y, s in [(290,96,"temperatura"),(301,96,"(°C)"),(801,96,"(°C)"),(812,96,"temperatura"),
                (289,183,"opad"),(301,183,"(mm/h, kg/m³/h)"),(801,183,"(%)"),(812,183,"wilgotność wzgl."),
                (290,273,"ciśnienie"),(301,273,"(hPa)"),(801,273,"(mm Hg)"),(812,273,"ciśnienie"),
                (290,362,"wiatr"),(301,362,"(m/s)"),(801,362,"(km/h)"),(812,362,"wiatr"),
                (290,467,"pion. rozciągł. chm."),(301,470,"(km)"),(801,470,"(km)"),(812,470,"widzialność"),
                (290,565,"zachmurzenie"),(301,563,"(oktanty)"),(801,565,"(frakcja)"),(812,565,"mgła")]:
    txt(x, y, s, NAVY, size=12, anchor="center", angle=-90)

# compass labels
for dx in (0, 509):
    txt(289+dx, 415, "W", NAVY, size=12, anchor="center")
    txt(300+dx, 407, "N", NAVY, size=11, anchor="center", angle=-90)
    txt(298+dx, 422, "S", NAVY, size=11, anchor="center")
    txt(305+dx, 416, "E", NAVY, size=11, anchor="center", angle=-90)

# left legend
RED = "#ff0000"
GRN = "#00a000"
BL2 = "#2244cc"
SLT = "#6a5acd"
txt(6, 15, "Czas lokalny"); txt(6, 26, "(CET/CEST)")
conn("black", [(67,16),(133,16),(156,44)])
txt(6, 42, "Temperatura gruntu", BRN); txt(47, 52, "max/min", BRN, anchor="center")
conn(BRN, [(102,43),(119,43),(148,88)])
txt(6, 64, "Temperatura:")
txt(13, 76, "punkt środkowy", RED, 11); txt(47, 86, "max/min", "#ffd8c8", anchor="center")
conn(RED, [(92,76),(115,76)]); conn(RED, [(131,76),(137,79),(157,102)])
txt(10, 98, "odczuwana", "#0000ff"); txt(47, 108, "max/min", "#aaddff", anchor="center")
conn("#0000ff", [(70,99),(135,99)])
txt(6, 120, "Temp. punktu rosy", SLT, 11)
conn(SLT, [(94,120),(127,120),(137,113)])
txt(6, 137, "Opad powyżej skali", RED, 11)
conn(RED, [(102,137),(134,137),(146,147)])
txt(6, 151, "Wilgotność względna", HUM, 10.2)
conn(HUM, [(107,151),(112,151)]); conn(HUM, [(130,151),(147,167)])
txt(6, 165, "Wystąpienie burzy")
conn("black", [(92,165),(112,165)]); conn("black", [(130,165),(139,174)])
txt(6, 179, "Deszcz:", GRN); txt(49, 179, "max", GRN)
conn(GRN, [(71,179),(139,179)])
txt(49, 190, "średni", GRN)
conn(GRN, [(80,190),(135,190)])
txt(6, 201, "Śnieg:", BL2); txt(49, 201, "max", BL2)
conn(BL2, [(70,202),(112,202)]); conn(BL2, [(130,202),(160,172)])
txt(49, 212, "średni", BL2)
conn(BL2, [(82,212),(130,212),(160,182)])
txt(6, 224, "Wystąpienie opadu", RED); txt(6, 237, "konwekcyjnego", RED)
conn(RED, [(95,224),(142,224),(147,218)])
txt(5, 263, "Ciśnienie"); txt(5, 276, "zredukowane"); txt(5, 289, "do poziomu morza")
conn("black", [(52,264),(130,264),(135,263)])
txt(5, 318, "Wiatr na 10m:")
txt(10, 334, "poryw powyżej skali", RED, 11.2)
conn(RED, [(110,334),(117,334)]); conn(RED, [(130,332),(138,316)])
txt(10, 349, "max porywy wiatru", RED, 11)
conn(RED, [(106,349),(130,349),(146,340)])
txt(10, 368, "prędkość wiatru", "#0000a0", 11); txt(10, 381, "w środku obszaru", "#0000a0", 11)
conn("#0000a0", [(92,367),(136,367)])
txt(10, 409, "kierunek wiatru", "#0000a0")
conn("#0000a0", [(86,410),(135,410)])
txt(6, 429, "Wierzchołek chmur", BRN)
conn(BRN, [(100,431),(135,431),(185,447)])
txt(6, 444, "Podstawa chmur*"); txt(6, 456, "o pokryciu")
txt(11, 468, "> 7.9 okt.")
conn("black", [(58,468),(130,468),(192,455)])
txt(11, 480, "> 6.5 okt.", "#555555")
conn("#555555", [(55,480),(143,480)])
txt(11, 490, "> 4.5 okt.", "#999999")
conn("#999999", [(60,490),(130,490),(138,500)])
txt(11, 500, "> 2.5 okt.", "#dddddd")
conn("#cccccc", [(57,501),(130,501),(138,508)])
txt(11, 511, "> 0.1 okt.", "white", bg=SKY)
conn(SKY, [(55,510),(135,510)]); conn(SKY, [(55,513),(135,513)])
txt(6, 526, "Widzialność", ORG)
conn(ORG, [(67,527),(130,527),(172,465)])
txt(6, 543, "Chmury:")
txt(11, 556, "wysokie", "white", bg=SKY)
conn(SKY, [(55,555),(185,555)]); conn(SKY, [(55,558),(185,558)])
txt(10, 570, "średnie", "#999999")
conn("#999999", [(50,571),(193,571)])
txt(10, 582, "niskie", "#333333")
conn("#333333", [(40,582),(122,582)]); conn("#333333", [(130,582),(137,582)])
txt(10, 593, "bardzo niskie", "#333333")
conn("#333333", [(75,594),(150,594)])
txt(6, 605, "Mgła", FOG)
conn(FOG, [(30,605),(215,605),(218,590)])
txt(6, 622, "Czas uniwersalny (UTC)", size=12)
conn("black", [(140,623),(148,623),(157,610)])
txt(5, 648, "* powyżej poziomu morza", size=9, bold=True)

fig.update_layout(width=MW, height=MH, margin=dict(l=0, r=0, t=0, b=0, pad=0, autoexpand=False), autosize=False,
                  paper_bgcolor="white", plot_bgcolor="rgba(0,0,0,0)", barmode="overlay", bargap=0,
                  showlegend=False, shapes=shapes, annotations=ann, font=dict(family=FONT, size=12), **axes)
fig.write_html("out.html", post_script="document.body.style.margin='0';document.body.style.overflow='hidden';",
               config=dict(displayModeBar=False, staticPlot=True))
